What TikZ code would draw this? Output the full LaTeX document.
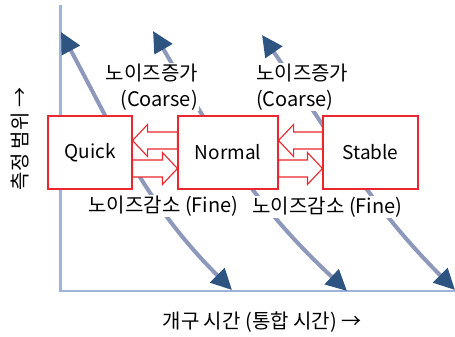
\documentclass[tikz,border=0pt]{standalone}
\usepackage{fontspec}
\setmainfont{Noto Sans CJK KR}
\usetikzlibrary{arrows.meta,calc}
\definecolor{axisc}{RGB}{158,178,218}
\definecolor{curvec}{RGB}{141,152,186}
\definecolor{headc}{RGB}{46,84,130}
\definecolor{boxred}{RGB}{236,38,46}
\tikzset{
  statebox/.style={draw=boxred, line width=1.1pt, fill=white, inner sep=0pt,
    minimum height=73pt, font=\fontsize{19}{23}\selectfont},
  lbl/.style={fill=white, inner sep=1pt, font=\fontsize{20}{26}\selectfont},
  blk/.style={draw=boxred, line width=1.1pt, fill=white, line join=miter},
  trend/.style={draw=curvec, line width=4pt,
    {Triangle[length=21pt,width=20pt,color=headc]}-{Triangle[length=21pt,width=20pt,color=headc]}},
  axisline/.style={draw=axisc, line width=2.5pt}
}
\newcommand{\twoblockarrows}[2]{%
  \draw[blk] ($(#1.east)+(0,-12)$) -- ++(15,-16) -- ++(0,7.5) -- ($(#2.west)+(0,-20.5)$)
    -- ++(0,17) -- ($(#1.east)+(15,-3.5)$) -- ++(0,7.5) -- cycle;
  \draw[blk] ($(#2.west)+(0,16)$) -- ++(-15,-16) -- ++(0,7.5) -- ($(#1.east)+(0,7.5)$)
    -- ++(0,17) -- ($(#2.west)+(-15,24.5)$) -- ++(0,7.5) -- cycle;
}
\begin{document}
\begin{tikzpicture}[x=1pt,y=-1pt]
\clip (0,0) rectangle (455,337);
\fill[white] (0,0) rectangle (455,337);
% axes
\coordinate (top) at (60.5,5);
\coordinate (origin) at (60.5,291);
\coordinate (right) at (456,291);
\draw[axisline] (top) -- (origin) -- (right);
% trend curves
\coordinate (a1) at (61,32);   \coordinate (b1) at (232,290);
\coordinate (a2) at (153,31);  \coordinate (b2) at (347,291);
\coordinate (a3) at (262,35);  \coordinate (b3) at (455,290);
\draw[trend] (a1) .. controls (118,138.5) and (146.5,204.5) .. (b1);
\draw[trend] (a2) .. controls (216.5,141) and (254.3,204.6) .. (b2);
\draw[trend] (a3) .. controls (333,137.5) and (367,202) .. (b3);
% boxes
\node[statebox, minimum width=84pt] (quick) at (90,152.5) {Quick};
\node[statebox, minimum width=100pt] (normal) at (228,152.5) {Normal};
\node[statebox, minimum width=95pt] (stable) at (370.5,152.5) {Stable};
\twoblockarrows{quick}{normal}
\twoblockarrows{normal}{stable}
% labels
\node[lbl, align=right, anchor=east] (c1) at (199,87) {노이즈증가\\(Coarse)};
\node[lbl, align=left, anchor=west] (c2) at (255,87) {노이즈증가\\(Coarse)};
\node[lbl] (f1) at (163.5,206) {노이즈감소 (Fine)};
\node[lbl] (f2) at (327.5,207) {노이즈감소 (Fine)};
\node[lbl, rotate=90] (ylab) at (20,139) {측정 범위 →};
\node[lbl] (xlab) at (262,322) {개구 시간 (통합 시간) →};
\end{tikzpicture}
\end{document}
